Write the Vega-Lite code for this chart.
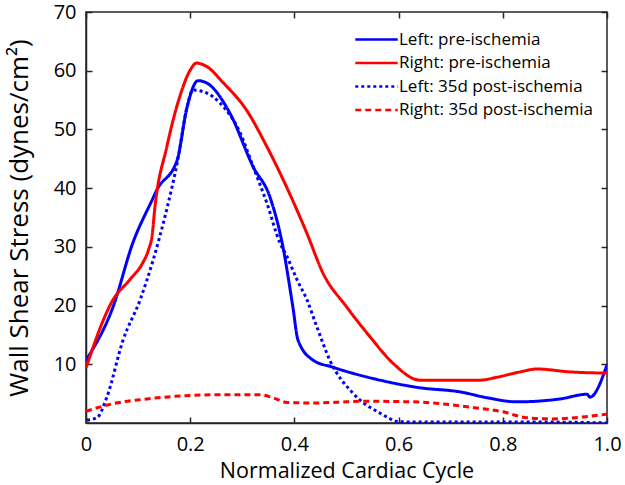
{
  "$schema": "https://vega.github.io/schema/vega-lite/v6.json",
  "width": 521,
  "height": 411,
  "autosize": {"type": "none"},
  "padding": {"left": 86, "top": 12, "right": 18, "bottom": 62},
  "background": "white",
  "config": {
    "font": "Open Sans",
    "view": {"stroke": "#262626", "strokeWidth": 1.5},
    "axis": {
      "grid": false,
      "domainColor": "#262626",
      "domainWidth": 1.5,
      "tickColor": "#262626",
      "tickWidth": 1.5,
      "tickSize": -6,
      "labelColor": "#000000",
      "titleColor": "#000000",
      "labelFont": "Open Sans",
      "titleFont": "Open Sans",
      "titleFontWeight": "normal",
      "labelFontSize": 20,
      "titleFontSize": 21.5
    },
    "legend": {"labelFont": "Open Sans"}
  },
  "data": {
    "values": [
      {"s": "Left: pre-ischemia", "x": 0.0, "y": 10.7},
      {"s": "Left: pre-ischemia", "x": 0.052, "y": 19.8},
      {"s": "Left: pre-ischemia", "x": 0.09, "y": 30.7},
      {"s": "Left: pre-ischemia", "x": 0.127, "y": 38.0},
      {"s": "Left: pre-ischemia", "x": 0.136, "y": 39.7},
      {"s": "Left: pre-ischemia", "x": 0.175, "y": 44.8},
      {"s": "Left: pre-ischemia", "x": 0.194, "y": 53.8},
      {"s": "Left: pre-ischemia", "x": 0.215, "y": 58.3},
      {"s": "Left: pre-ischemia", "x": 0.232, "y": 57.9},
      {"s": "Left: pre-ischemia", "x": 0.276, "y": 52.8},
      {"s": "Left: pre-ischemia", "x": 0.321, "y": 43.6},
      {"s": "Left: pre-ischemia", "x": 0.353, "y": 38.5},
      {"s": "Left: pre-ischemia", "x": 0.378, "y": 30.0},
      {"s": "Left: pre-ischemia", "x": 0.397, "y": 19.8},
      {"s": "Left: pre-ischemia", "x": 0.407, "y": 14.1},
      {"s": "Left: pre-ischemia", "x": 0.436, "y": 10.7},
      {"s": "Left: pre-ischemia", "x": 0.474, "y": 9.5},
      {"s": "Left: pre-ischemia", "x": 0.564, "y": 7.3},
      {"s": "Left: pre-ischemia", "x": 0.641, "y": 6.0},
      {"s": "Left: pre-ischemia", "x": 0.718, "y": 5.3},
      {"s": "Left: pre-ischemia", "x": 0.77, "y": 4.3},
      {"s": "Left: pre-ischemia", "x": 0.827, "y": 3.6},
      {"s": "Left: pre-ischemia", "x": 0.91, "y": 4.1},
      {"s": "Left: pre-ischemia", "x": 0.962, "y": 4.9},
      {"s": "Left: pre-ischemia", "x": 0.967, "y": 4.4},
      {"s": "Left: pre-ischemia", "x": 1.0, "y": 9.9},

      {"s": "Right: pre-ischemia", "x": 0.0, "y": 9.4},
      {"s": "Right: pre-ischemia", "x": 0.052, "y": 21.0},
      {"s": "Right: pre-ischemia", "x": 0.084, "y": 24.4},
      {"s": "Right: pre-ischemia", "x": 0.109, "y": 27.3},
      {"s": "Right: pre-ischemia", "x": 0.12, "y": 29.5},
      {"s": "Right: pre-ischemia", "x": 0.127, "y": 32.0},
      {"s": "Right: pre-ischemia", "x": 0.132, "y": 36.5},
      {"s": "Right: pre-ischemia", "x": 0.155, "y": 47.0},
      {"s": "Right: pre-ischemia", "x": 0.18, "y": 55.6},
      {"s": "Right: pre-ischemia", "x": 0.2, "y": 60.1},
      {"s": "Right: pre-ischemia", "x": 0.212, "y": 61.3},
      {"s": "Right: pre-ischemia", "x": 0.232, "y": 60.7},
      {"s": "Right: pre-ischemia", "x": 0.264, "y": 57.9},
      {"s": "Right: pre-ischemia", "x": 0.308, "y": 53.3},
      {"s": "Right: pre-ischemia", "x": 0.347, "y": 47.1},
      {"s": "Right: pre-ischemia", "x": 0.385, "y": 40.2},
      {"s": "Right: pre-ischemia", "x": 0.424, "y": 32.3},
      {"s": "Right: pre-ischemia", "x": 0.455, "y": 25.5},
      {"s": "Right: pre-ischemia", "x": 0.5, "y": 19.8},
      {"s": "Right: pre-ischemia", "x": 0.545, "y": 14.7},
      {"s": "Right: pre-ischemia", "x": 0.589, "y": 10.2},
      {"s": "Right: pre-ischemia", "x": 0.641, "y": 7.3},
      {"s": "Right: pre-ischemia", "x": 0.756, "y": 7.3},
      {"s": "Right: pre-ischemia", "x": 0.789, "y": 7.8},
      {"s": "Right: pre-ischemia", "x": 0.833, "y": 8.7},
      {"s": "Right: pre-ischemia", "x": 0.866, "y": 9.2},
      {"s": "Right: pre-ischemia", "x": 0.929, "y": 8.7},
      {"s": "Right: pre-ischemia", "x": 1.0, "y": 8.5},

      {"s": "Left: 35d post-ischemia", "x": 0.002, "y": 0.5},
      {"s": "Left: 35d post-ischemia", "x": 0.021, "y": 0.9},
      {"s": "Left: 35d post-ischemia", "x": 0.04, "y": 4.4},
      {"s": "Left: 35d post-ischemia", "x": 0.071, "y": 14.1},
      {"s": "Left: 35d post-ischemia", "x": 0.104, "y": 21.0},
      {"s": "Left: 35d post-ischemia", "x": 0.129, "y": 27.8},
      {"s": "Left: 35d post-ischemia", "x": 0.155, "y": 36.4},
      {"s": "Left: 35d post-ischemia", "x": 0.175, "y": 44.3},
      {"s": "Left: 35d post-ischemia", "x": 0.194, "y": 53.8},
      {"s": "Left: 35d post-ischemia", "x": 0.205, "y": 56.7},
      {"s": "Left: 35d post-ischemia", "x": 0.232, "y": 56.2},
      {"s": "Left: 35d post-ischemia", "x": 0.257, "y": 54.5},
      {"s": "Left: 35d post-ischemia", "x": 0.296, "y": 49.4},
      {"s": "Left: 35d post-ischemia", "x": 0.321, "y": 43.6},
      {"s": "Left: 35d post-ischemia", "x": 0.347, "y": 37.5},
      {"s": "Left: 35d post-ischemia", "x": 0.372, "y": 30.7},
      {"s": "Left: 35d post-ischemia", "x": 0.386, "y": 28.3},
      {"s": "Left: 35d post-ischemia", "x": 0.405, "y": 24.4},
      {"s": "Left: 35d post-ischemia", "x": 0.424, "y": 21.0},
      {"s": "Left: 35d post-ischemia", "x": 0.443, "y": 16.4},
      {"s": "Left: 35d post-ischemia", "x": 0.468, "y": 10.7},
      {"s": "Left: 35d post-ischemia", "x": 0.512, "y": 5.1},
      {"s": "Left: 35d post-ischemia", "x": 0.564, "y": 1.7},
      {"s": "Left: 35d post-ischemia", "x": 0.603, "y": 0.2},
      {"s": "Left: 35d post-ischemia", "x": 0.7, "y": 0.15},
      {"s": "Left: 35d post-ischemia", "x": 0.8, "y": 0.15},
      {"s": "Left: 35d post-ischemia", "x": 0.9, "y": 0.15},
      {"s": "Left: 35d post-ischemia", "x": 1.0, "y": 0.0},

      {"s": "Right: 35d post-ischemia", "x": 0.0, "y": 2.0},
      {"s": "Right: 35d post-ischemia", "x": 0.052, "y": 3.3},
      {"s": "Right: 35d post-ischemia", "x": 0.117, "y": 4.1},
      {"s": "Right: 35d post-ischemia", "x": 0.18, "y": 4.6},
      {"s": "Right: 35d post-ischemia", "x": 0.244, "y": 4.8},
      {"s": "Right: 35d post-ischemia", "x": 0.334, "y": 4.8},
      {"s": "Right: 35d post-ischemia", "x": 0.359, "y": 4.3},
      {"s": "Right: 35d post-ischemia", "x": 0.386, "y": 3.5},
      {"s": "Right: 35d post-ischemia", "x": 0.436, "y": 3.4},
      {"s": "Right: 35d post-ischemia", "x": 0.5, "y": 3.6},
      {"s": "Right: 35d post-ischemia", "x": 0.532, "y": 3.7},
      {"s": "Right: 35d post-ischemia", "x": 0.628, "y": 3.6},
      {"s": "Right: 35d post-ischemia", "x": 0.737, "y": 2.7},
      {"s": "Right: 35d post-ischemia", "x": 0.8, "y": 1.9},
      {"s": "Right: 35d post-ischemia", "x": 0.846, "y": 0.9},
      {"s": "Right: 35d post-ischemia", "x": 0.896, "y": 0.7},
      {"s": "Right: 35d post-ischemia", "x": 0.962, "y": 1.1},
      {"s": "Right: 35d post-ischemia", "x": 1.0, "y": 1.5}
    ]
  },
  "resolve": {"axis": {"x": "independent", "y": "independent"}},
  "layer": [
    {
      "mark": {"type": "line", "strokeWidth": 3, "interpolate": "monotone", "strokeCap": "butt", "clip": true},
      "encoding": {
        "x": {
          "field": "x", "type": "quantitative",
          "scale": {"domain": [0, 1], "nice": false},
          "axis": {
            "values": [0, 0.2, 0.4, 0.6, 0.8, 1.0],
            "labelExpr": "datum.value == 0 ? '0' : format(datum.value, '.1f')",
            "title": "Normalized Cardiac Cycle",
            "labelPadding": 17,
            "titlePadding": 6,
            "labelFlush": false
          }
        },
        "y": {
          "field": "y", "type": "quantitative",
          "scale": {"domain": [0, 70], "nice": false},
          "axis": {
            "values": [10, 20, 30, 40, 50, 60, 70],
            "title": "Wall Shear Stress (dynes/cm²)",
            "titleFontSize": 26,
            "labelPadding": 16,
            "titlePadding": 21,
            "labelFlush": false
          }
        },
        "color": {
          "field": "s", "type": "nominal",
          "scale": {
            "domain": ["Left: pre-ischemia", "Right: pre-ischemia", "Left: 35d post-ischemia", "Right: 35d post-ischemia"],
            "range": ["#0000ff", "#ff0000", "#0000ff", "#ff0000"]
          },
          "legend": {
            "title": null, "orient": "none", "legendX": 282, "legendY": 19,
            "symbolType": "M-3,0H3", "symbolSize": 200, "symbolStrokeWidth": 2.5,
            "labelFontSize": 17, "labelOffset": 14, "rowPadding": 5.5, "labelLimit": 300
          }
        },
        "strokeDash": {
          "field": "s", "type": "nominal",
          "scale": {
            "domain": ["Left: pre-ischemia", "Right: pre-ischemia", "Left: 35d post-ischemia", "Right: 35d post-ischemia"],
            "range": [[1, 0], [1, 0], [3, 3], [6, 4]]
          },
          "legend": {
            "title": null, "orient": "none", "legendX": 282, "legendY": 19,
            "symbolType": "M-3,0H3", "symbolSize": 200, "symbolStrokeWidth": 2.5,
            "labelFontSize": 17, "labelOffset": 14, "rowPadding": 5.5, "labelLimit": 300
          }
        }
      }
    },
    {
      "mark": {"type": "line", "opacity": 0},
      "encoding": {
        "x": {"field": "x", "type": "quantitative", "axis": {"orient": "top", "values": [0, 0.2, 0.4, 0.6, 0.8, 1.0], "labels": false, "title": null, "domain": false}},
        "y": {"field": "y", "type": "quantitative", "axis": {"orient": "right", "values": [10, 20, 30, 40, 50, 60, 70], "labels": false, "title": null, "domain": false}}
      }
    }
  ]
}
